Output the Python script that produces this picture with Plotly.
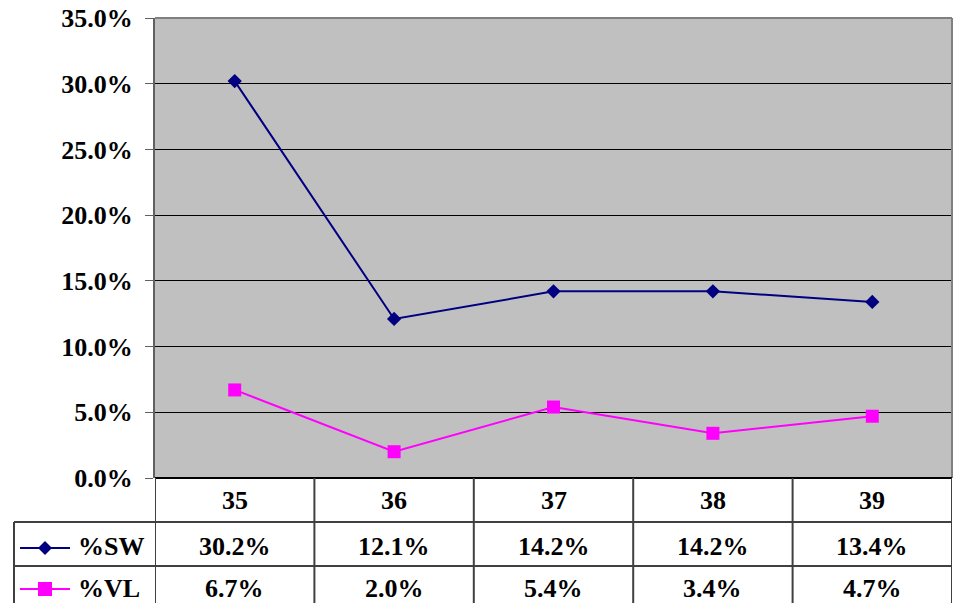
import plotly.graph_objects as go

categories = ["35", "36", "37", "38", "39"]
sw_values = [0.302, 0.121, 0.142, 0.142, 0.134]
vl_values = [0.067, 0.020, 0.054, 0.034, 0.047]
series_names = ["%SW", "%VL"]
y_ticks = [0, 0.05, 0.10, 0.15, 0.20, 0.25, 0.30, 0.35]

W, H = 955, 603
L, R, T, B = 155, 3, 18, 125
PH = H - T - B
PW = W - L - R

def py(p):
    return (H - B - p) / PH

def px(p):
    return (p - L) / PW

FONT = "Liberation Serif"
NAVY = "#000080"
MAG = "#FF00FF"
LINEC = "#404040"

idx = list(range(len(categories)))

fig = go.Figure()
fig.add_trace(go.Scatter(x=idx, y=sw_values, mode="lines+markers", name=series_names[0],
                         line=dict(color=NAVY, width=2),
                         marker=dict(symbol="diamond", size=11, color=NAVY)))
fig.add_trace(go.Scatter(x=idx, y=vl_values, mode="lines+markers", name=series_names[1],
                         line=dict(color=MAG, width=2),
                         marker=dict(symbol="square", size=13, color=MAG)))

shapes = []
shapes.append(dict(type="line", xref="paper", yref="paper", x0=0, x1=1, y0=1, y1=1,
                   line=dict(color="#808080", width=2)))
shapes.append(dict(type="line", xref="paper", yref="paper", x0=1, x1=1, y0=0, y1=1,
                   line=dict(color="#808080", width=2)))
yb = py(H + 10)
r1, r2 = py(522), py(566)
shapes.append(dict(type="line", xref="paper", yref="paper", x0=0, x1=1, y0=0, y1=0,
                   line=dict(color="black", width=2)))
for yy in (r1, r2):
    shapes.append(dict(type="line", xref="paper", yref="paper", x0=px(14), x1=1, y0=yy, y1=yy,
                       line=dict(color=LINEC, width=2)))
for i in range(len(categories) + 1):
    shapes.append(dict(type="line", xref="x", yref="paper", x0=i - 0.5, x1=i - 0.5, y0=0, y1=yb,
                       line=dict(color=LINEC, width=2)))
shapes.append(dict(type="line", xref="paper", yref="paper", x0=px(14), x1=px(14), y0=r1, y1=yb,
                   line=dict(color=LINEC, width=2)))
key_y = [py(548), py(589)]
for yy, col in zip(key_y, [NAVY, MAG]):
    shapes.append(dict(type="line", xref="paper", yref="paper", x0=px(20), x1=px(70), y0=yy, y1=yy,
                       line=dict(color=col, width=2)))
shapes.append(dict(type="path", xref="paper", yref="paper", xsizemode="pixel", ysizemode="pixel",
                   xanchor=px(45), yanchor=key_y[0],
                   path="M -7 0 L 0 7 L 7 0 L 0 -7 Z", fillcolor=NAVY, line=dict(color=NAVY, width=0)))
shapes.append(dict(type="rect", xref="paper", yref="paper", xsizemode="pixel", ysizemode="pixel",
                   xanchor=px(45), yanchor=key_y[1], x0=-7, x1=7, y0=-7, y1=7,
                   fillcolor=MAG, line=dict(color=MAG, width=0)))

ann = []
tf = dict(family=FONT, size=26, color="black")
def b(s):
    return "<b>" + s + "</b>"
for i, c in enumerate(categories):
    ann.append(dict(x=i, y=py(500), xref="x", yref="paper", text=b(c), showarrow=False, font=tf,
                    xanchor="center", yanchor="middle"))
    ann.append(dict(x=i, y=py(546), xref="x", yref="paper", text=b(f"{sw_values[i]*100:.1f}%"),
                    showarrow=False, font=tf, xanchor="center", yanchor="middle"))
    ann.append(dict(x=i, y=py(588), xref="x", yref="paper", text=b(f"{vl_values[i]*100:.1f}%"),
                    showarrow=False, font=tf, xanchor="center", yanchor="middle"))
for name, yy in zip(series_names, [py(546), py(588)]):
    ann.append(dict(x=px(76), y=yy, xref="paper", yref="paper", text=b(name), showarrow=False, font=tf,
                    xanchor="left", yanchor="middle"))

tick_text = [b(f"{v*100:.1f}%") for v in y_ticks]

fig.update_layout(
    width=W, height=H, autosize=False,
    margin=dict(l=L, r=R, t=T, b=B, pad=0),
    paper_bgcolor="white", plot_bgcolor="#C0C0C0",
    showlegend=False,
    xaxis=dict(range=[-0.5, len(categories) - 0.5], showticklabels=False, showgrid=False,
               zeroline=False, showline=False, ticks="", fixedrange=True),
    yaxis=dict(range=[0, 0.35], tickvals=y_ticks, ticktext=tick_text, showgrid=True,
               gridcolor="black", gridwidth=1, zeroline=False, showline=True,
               linecolor="#606060", linewidth=2, ticks="outside", ticklen=8,
               tickcolor="#606060", tickwidth=1, ticklabelstandoff=7, automargin=False,
               tickfont=dict(family=FONT, size=26, color="black")),
    shapes=shapes, annotations=ann,
)
fig.write_html("out.html", config={"responsive": False, "displayModeBar": False},
               post_script="document.body.style.margin='0';document.body.style.padding='0';")
